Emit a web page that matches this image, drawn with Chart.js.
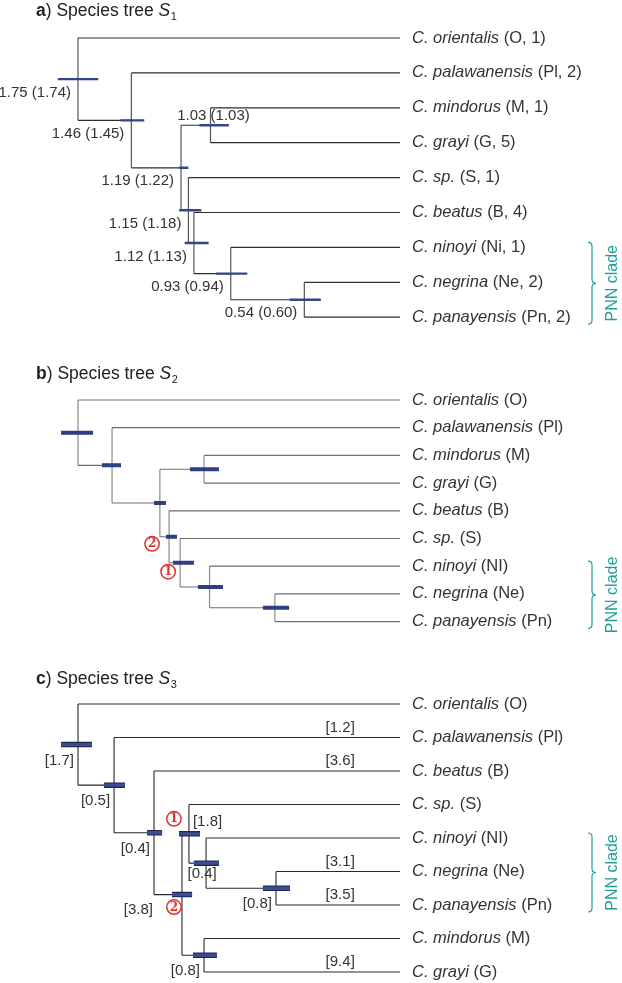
<!DOCTYPE html>
<html>
<head>
<meta charset="utf-8">
<title>Species trees</title>
<script src="https://cdn.jsdelivr.net/npm/chart.js@4.4.1/dist/chart.umd.min.js"></script>
<style>
  body { margin: 0; background: #fff; }
  canvas { position: absolute; left: 0; }
</style>
</head>
<body>
<canvas id="treeA" width="622" height="340" style="top:0px"></canvas>
<canvas id="treeB" width="622" height="300" style="top:340px"></canvas>
<canvas id="treeC" width="622" height="343" style="top:640px"></canvas>
<script>
// ---------- data ----------
// leaves are numbered 0..n-1 from top to bottom, internal nodes n, n+1, ... (first one is the root)

// a) species tree S1
const titleA = ["a", "Species tree ", "S", "1"];
const speciesA = ["C. orientalis", "C. palawanensis", "C. mindorus", "C. grayi", "C. sp.", "C. beatus", "C. ninoyi", "C. negrina", "C. panayensis"];
const codesA = ["O, 1", "Pl, 2", "M, 1", "G, 5", "S, 1", "B, 4", "Ni, 1", "Ne, 2", "Pn, 2"];
const childrenA = [[0, 10], [1, 11], [12, 13], [2, 3], [4, 14], [5, 15], [6, 16], [7, 8]];
const agesA = [1.75, 1.46, 1.19, 1.03, 1.15, 1.12, 0.92, 0.52];
const hpdA = [[1.64, 1.86], [1.39, 1.52], [1.15, 1.20], [0.93, 1.09], [1.08, 1.20], [1.04, 1.17], [0.83, 1.00], [0.43, 0.60]];
const nodeLabelsA = ["1.75 (1.74)", "1.46 (1.45)", "1.19 (1.22)", "1.03 (1.03)", "1.15 (1.18)", "1.12 (1.13)", "0.93 (0.94)", "0.54 (0.60)"];
const pnnA = [6, 8];

// b) species tree S2
const titleB = ["b", "Species tree ", "S", "2"];
const speciesB = ["C. orientalis", "C. palawanensis", "C. mindorus", "C. grayi", "C. beatus", "C. sp.", "C. ninoyi", "C. negrina", "C. panayensis"];
const codesB = ["O", "Pl", "M", "G", "B", "S", "NI", "Ne", "Pn"];
const childrenB = [[0, 10], [1, 11], [12, 13], [2, 3], [4, 14], [5, 15], [6, 16], [7, 8]];
const agesB = [1.75, 1.565, 1.305, 1.065, 1.255, 1.195, 1.035, 0.68];
const hpdB = [[1.668, 1.842], [1.516, 1.62], [1.272, 1.337], [0.984, 1.141], [1.212, 1.272], [1.12, 1.234], [0.962, 1.098], [0.603, 0.745]];
const markersB = [[13, "2"], [14, "1"]];
const pnnB = [6, 8];

// c) species tree S3
const titleC = ["c", "Species tree ", "S", "3"];
const speciesC = ["C. orientalis", "C. palawanensis", "C. beatus", "C. sp.", "C. ninoyi", "C. negrina", "C. panayensis", "C. mindorus", "C. grayi"];
const codesC = ["O", "Pl", "B", "S", "NI", "Ne", "Pn", "M", "G"];
const childrenC = [[0, 10], [1, 11], [2, 12], [13, 16], [3, 14], [4, 15], [5, 6], [7, 8]];
const agesC = [1.75, 1.554, 1.337, 1.185, 1.147, 1.054, 0.674, 1.065];
const hpdC = [[1.674, 1.842], [1.495, 1.609], [1.293, 1.375], [1.13, 1.239], [1.087, 1.201], [0.984, 1.12], [0.598, 0.745], [0.995, 1.125]];
const nodeLabelsC = ["[1.7]", "[0.5]", "[0.4]", "[3.8]", "[1.8]", "[0.4]", "[0.8]", "[0.8]"];
const leafBranchLabelsC = [[1, "[1.2]"], [2, "[3.6]"], [5, "[3.1]"], [6, "[3.5]"], [8, "[9.4]"]];
const markersC = [[13, "1"], [12, "2"]];
const pnnC = [4, 6];

// ---------- look ----------
const FONT = '"Liberation Sans", Arial, Helvetica, sans-serif';
const TEXT = '#333333';
const TEAL = '#1f9e99';
const RED = '#dd3530';

// ---------- helpers ----------
function layoutTree(children, ages, nLeaves) {
  const x = [], y = [];
  for (let i = 0; i < nLeaves; i++) { x[i] = 0; y[i] = i; }
  function place(id) {
    if (y[id] !== undefined) return y[id];
    const k = id - nLeaves;
    const c = children[k];
    x[id] = ages[k];
    y[id] = (place(c[0]) + place(c[1])) / 2;
    return y[id];
  }
  for (let k = 0; k < children.length; k++) place(nLeaves + k);
  return { x, y };
}

function gap() { return { x: null, y: null }; }

function drawBrace(ctx, x, yTop, yBot) {
  const w = 4, mid = (yTop + yBot) / 2;
  ctx.beginPath();
  ctx.moveTo(x, yTop);
  ctx.quadraticCurveTo(x + w, yTop, x + w, yTop + w);
  ctx.lineTo(x + w, mid - w);
  ctx.quadraticCurveTo(x + w, mid, x + 2 * w, mid);
  ctx.quadraticCurveTo(x + w, mid, x + w, mid + w);
  ctx.lineTo(x + w, yBot - w);
  ctx.quadraticCurveTo(x + w, yBot, x, yBot);
  ctx.stroke();
}

function drawMarker(ctx, cx, cy, txt) {
  ctx.beginPath();
  ctx.arc(cx, cy, 7.2, 0, Math.PI * 2);
  ctx.fillStyle = '#fff';
  ctx.fill();
  ctx.lineWidth = 1.5;
  ctx.strokeStyle = RED;
  ctx.stroke();
  ctx.fillStyle = RED;
  ctx.font = 'bold 12px "DejaVu Serif", serif';
  ctx.textAlign = 'center';
  ctx.textBaseline = 'middle';
  ctx.fillText(txt, cx, cy + 0.5);
}

function makeTreeChart(canvasId, p) {
  const nLeaves = p.species.length;
  const g = layoutTree(p.children, p.ages, nLeaves);
  const horiz = [], vert = [], bars = [];
  p.children.forEach((c, k) => {
    const id = nLeaves + k;
    c.forEach(ch => horiz.push({ x: g.x[id], y: g.y[ch] }, { x: g.x[ch], y: g.y[ch] }, gap()));
    vert.push({ x: g.x[id], y: g.y[c[0]] }, { x: g.x[id], y: g.y[c[1]] }, gap());
    bars.push({ x: p.hpd[k][0], y: g.y[id] }, { x: p.hpd[k][1], y: g.y[id] }, gap());
  });

  const lineDs = (data, color, width) => ({
    data, showLine: true, spanGaps: false, borderColor: color, borderWidth: width,
    borderCapStyle: 'butt', pointRadius: 0, pointHoverRadius: 0, fill: false, tension: 0
  });

  const datasets = [];
  if (p.barOutline) datasets.push(lineDs(bars.map(d => ({ ...d })), p.barColor, p.barWidth - 2.2));
  datasets.push(lineDs(bars, p.barOutline || p.barColor, p.barWidth));
  datasets.push(lineDs(horiz, p.hColor, 1.2));
  datasets.push(lineDs(vert, p.vColor, 1.2));

  const textPlugin = {
    id: 'treeText' + canvasId,
    afterDatasetsDraw(chart) {
      const { ctx, scales: { x, y } } = chart;
      const nx = id => x.getPixelForValue(g.x[id]);
      const ny = id => y.getPixelForValue(g.y[id]);
      ctx.save();

      // title: bold letter, ")", label, italic S with subscript
      let tx = 36;
      const ty = p.titleBaseline;
      ctx.fillStyle = '#222';
      ctx.textBaseline = 'alphabetic';
      ctx.textAlign = 'left';
      ctx.font = 'bold 17.5px ' + FONT;
      ctx.fillText(p.title[0], tx, ty); tx += ctx.measureText(p.title[0]).width;
      ctx.font = '17.5px ' + FONT;
      const mid = ') ' + p.title[1];
      ctx.fillText(mid, tx, ty); tx += ctx.measureText(mid).width;
      ctx.font = 'italic 17.5px ' + FONT;
      ctx.fillText(p.title[2], tx, ty); tx += ctx.measureText(p.title[2]).width;
      ctx.font = '11px ' + FONT;
      ctx.fillText(p.title[3], tx + 0.5, ty + 4);

      // leaf labels
      ctx.fillStyle = TEXT;
      ctx.textBaseline = 'middle';
      const lx = x.getPixelForValue(0) + 12;
      p.species.forEach((sp, i) => {
        const ly = y.getPixelForValue(i);
        ctx.font = 'italic 16.5px ' + FONT;
        ctx.fillText(sp, lx, ly);
        const w = ctx.measureText(sp).width;
        ctx.font = '16.5px ' + FONT;
        ctx.fillText(' (' + p.codes[i] + ')', lx + w, ly);
      });

      // node labels
      ctx.font = '15px ' + FONT;
      (p.nodeLabels || []).forEach((t, k) => {
        const id = nLeaves + k;
        const place = p.labelPlace[k] || 'below';
        const off = p.labelOffsets[place];
        ctx.textAlign = off[2];
        ctx.fillText(t, nx(id) + off[0], ny(id) + off[1]);
      });

      // labels sitting on leaf branches
      ctx.textAlign = 'center';
      (p.leafBranchLabels || []).forEach(([leaf, t]) => {
        ctx.fillText(t, x.getPixelForValue(0.325), y.getPixelForValue(leaf) - 10);
      });

      // circled markers
      (p.markers || []).forEach(([id, t], i) => {
        const o = p.markerOffsets[i];
        drawMarker(ctx, nx(id) + o[0], ny(id) + o[1], t);
      });

      // PNN clade brace
      const yTop = y.getPixelForValue(p.pnn[0]) - 5;
      const yBot = y.getPixelForValue(p.pnn[1]) + 7;
      ctx.strokeStyle = TEAL;
      ctx.lineWidth = 1.2;
      drawBrace(ctx, 588, yTop, yBot);
      ctx.save();
      ctx.translate(613, (yTop + yBot) / 2);
      ctx.rotate(-Math.PI / 2);
      ctx.fillStyle = TEAL;
      ctx.font = '16px ' + FONT;
      ctx.textAlign = 'center';
      ctx.textBaseline = 'middle';
      ctx.fillText('PNN clade', 0, 0);
      ctx.restore();

      ctx.restore();
    }
  };

  // x: age, leaves at pixel 400, 184 px per unit; y: leaf rows
  const W = 622, leafPx = 400, pxPerAge = 184;
  const H = document.getElementById(canvasId).height;
  return new Chart(document.getElementById(canvasId), {
    type: 'scatter',
    data: { datasets },
    options: {
      responsive: false,
      animation: false,
      events: [],
      layout: { padding: 0 },
      plugins: { legend: { display: false }, tooltip: { enabled: false } },
      scales: {
        x: { type: 'linear', display: false, reverse: true,
             min: (leafPx - W) / pxPerAge, max: leafPx / pxPerAge },
        y: { type: 'linear', display: false, reverse: true,
             min: -p.firstRowPx / p.rowPx, max: (H - p.firstRowPx) / p.rowPx }
      }
    },
    plugins: [textPlugin]
  });
}

makeTreeChart('treeA', {
  title: titleA, species: speciesA, codes: codesA, children: childrenA, ages: agesA, hpd: hpdA,
  nodeLabels: nodeLabelsA, pnn: pnnA,
  labelPlace: ['below', 'below', 'below', 'above', 'below', 'below', 'below', 'below'],
  labelOffsets: { below: [-7, 13.5, 'right'], above: [3, -9, 'center'] },
  titleBaseline: 16, firstRowPx: 38, rowPx: 34.9,
  hColor: '#2e2e2e', vColor: '#555555', barColor: '#34458a', barWidth: 2.4
});

makeTreeChart('treeB', {
  title: titleB, species: speciesB, codes: codesB, children: childrenB, ages: agesB, hpd: hpdB,
  markers: markersB, markerOffsets: [[-17, 7], [-12, 9]], pnn: pnnB,
  titleBaseline: 39, firstRowPx: 60, rowPx: 27.7,
  hColor: '#6e6e6e', vColor: '#8a8a8a', barColor: '#2f3e7e', barWidth: 4
});

makeTreeChart('treeC', {
  title: titleC, species: speciesC, codes: codesC, children: childrenC, ages: agesC, hpd: hpdC,
  nodeLabels: nodeLabelsC, leafBranchLabels: leafBranchLabelsC, pnn: pnnC,
  markers: markersC, markerOffsets: [[-15, -15], [-8, 12.5]],
  labelPlace: ['below', 'below', 'below', 'far', 'aboveRight', 'belowCenter', 'below', 'below'],
  labelOffsets: { below: [-4, 16, 'right'], far: [-29, 15, 'right'], aboveRight: [4, -12, 'left'], belowCenter: [-4, 11, 'center'] },
  titleBaseline: 44, firstRowPx: 64, rowPx: 33.5,
  hColor: '#2a2a2a', vColor: '#3a3a3a', barColor: '#3d4c8c', barOutline: '#1c2554', barWidth: 5.5
});
</script>
</body>
</html>
